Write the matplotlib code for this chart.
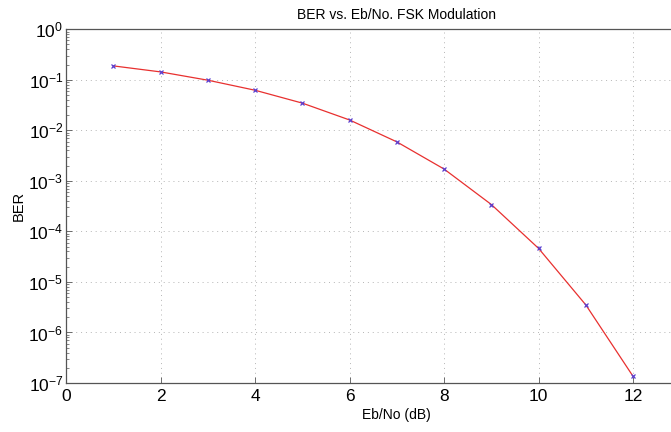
import numpy as np
import matplotlib
matplotlib.use("Agg")
import matplotlib.pyplot as plt
from matplotlib.ticker import LogLocator, FixedLocator, NullFormatter

plt.rcParams['font.family'] = ['Liberation Sans', 'DejaVu Sans']
plt.rcParams['mathtext.default'] = 'regular'

# valores
ebno_db = [1, 2, 3, 4, 5, 6, 7, 8, 9, 10, 11, 12]
ber = [0.188, 0.143, 0.098, 0.062, 0.0345, 0.016, 0.0059, 0.00171,
       3.4e-4, 4.6e-5, 3.5e-6, 1.35e-7]
x_ticks = [0, 2, 4, 6, 8, 10, 12]
y_ticks = [1e-7, 1e-6, 1e-5, 1e-4, 1e-3, 1e-2, 1e-1, 1]

fig = plt.figure(figsize=(6.71, 4.32), dpi=100)
ax = fig.add_axes([0.0984, 0.1134, 0.986, 0.819])

ax.semilogy(ebno_db, ber, color='#e8302f', linewidth=0.9, zorder=3)
ax.semilogy(ebno_db, ber, linestyle='none', marker='x', markersize=3,
            markeredgewidth=0.9, color='#5a3fd0', zorder=4)

ax.set_xlim(0, 14)
ax.set_ylim(1e-7, 1)
ax.xaxis.set_major_locator(FixedLocator(x_ticks))
ax.yaxis.set_major_locator(FixedLocator(y_ticks))
ax.yaxis.set_minor_locator(LogLocator(base=10, subs=np.arange(2, 10), numticks=20))
ax.yaxis.set_minor_formatter(NullFormatter())

ax.tick_params(which='both', direction='in', labelsize=12.5, color='#555555')
ax.tick_params(which='major', length=4, width=0.6)
ax.tick_params(which='minor', length=2, width=0.5)
ax.tick_params(axis='x', pad=4)
ax.tick_params(axis='y', pad=2)

ax.grid(True, which='major', linestyle=(0, (1, 4)), color='#b5b5b5', linewidth=0.7)

for s in ax.spines.values():
    s.set_color('#555555')
    s.set_linewidth(0.9)

ax.set_title('BER vs. Eb/No. FSK Modulation', fontsize=10, pad=7)
ax.set_xlabel('Eb/No (dB)', fontsize=10, labelpad=3)
ax.set_ylabel('BER', fontsize=10.5, labelpad=2)

fig.savefig('out.png', dpi=100)
